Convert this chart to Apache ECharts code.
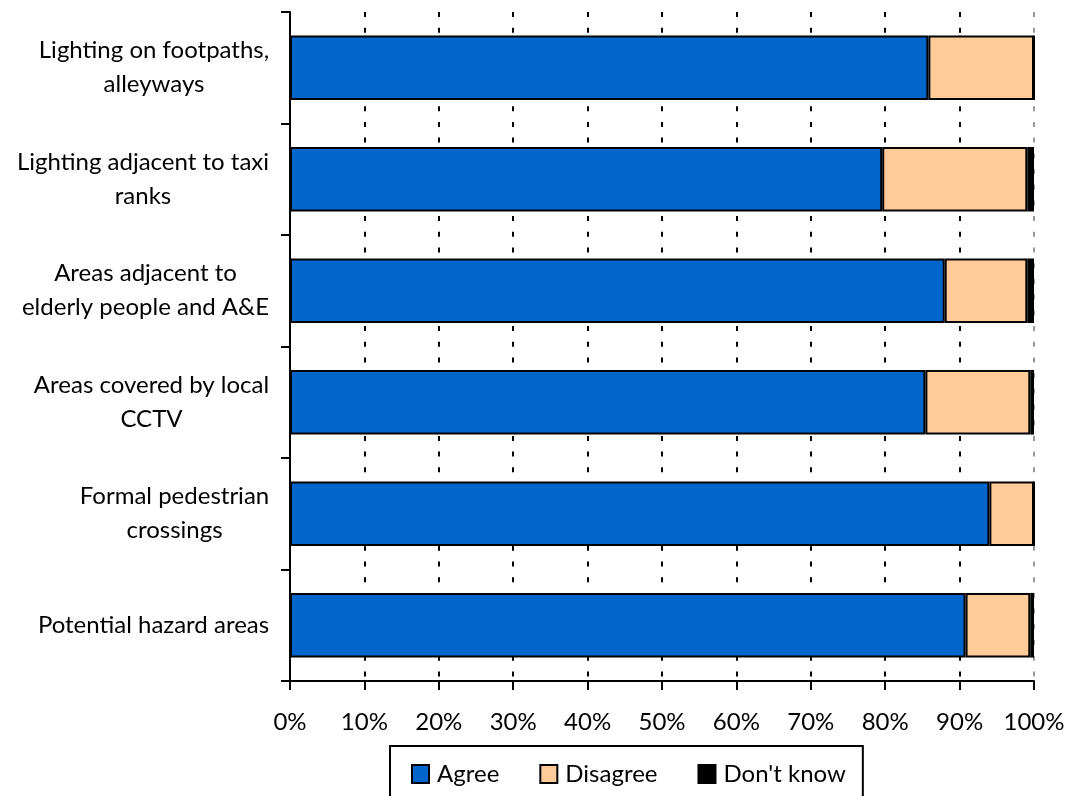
<!DOCTYPE html>
<html>
<head>
<meta charset="utf-8">
<script src="https://cdn.jsdelivr.net/npm/echarts@6/dist/echarts.min.js"></script>
<style>
html,body{margin:0;padding:0;background:#fff;}
#chart{width:1069px;height:796px;}
</style>
</head>
<body>
<div id="chart"></div>
<script>
var categories = [
  'Lighting on footpaths,\nalleyways',
  'Lighting adjacent to taxi\nranks',
  'Areas adjacent to\nelderly people and A&E',
  'Areas covered by local\nCCTV',
  'Formal pedestrian\ncrossings',
  'Potential hazard areas'
];
var agree = [85.8, 79.6, 88.0, 85.4, 94.0, 90.8];
var disagree = [14.2, 19.5, 11.1, 14.1, 6.0, 8.7];
var dontKnow = [0, 0.9, 0.9, 0.5, 0, 0.5];
var seriesNames = ['Agree', 'Disagree', "Don't know"];
var seriesColors = ['#0066CC', '#FFCC99', '#000000'];
var xTicks = [0, 10, 20, 30, 40, 50, 60, 70, 80, 90, 100];

var font = 'Lato';
var fontSize = 24;
var chart = echarts.init(document.getElementById('chart'));

// measure label lines so each multi-line label is centred within its own block
var ctx = document.createElement('canvas').getContext('2d');
ctx.font = fontSize + 'px ' + font;
var rich = {};
categories.forEach(function (c, i) {
  var w = 0;
  c.split('\n').forEach(function (l) { w = Math.max(w, ctx.measureText(l).width); });
  rich['c' + i] = { width: Math.ceil(w) + 1, align: 'center', fontFamily: font, fontSize: fontSize, color: '#000', lineHeight: 34 };
});

var gridColors = xTicks.map(function (v) { return v === 100 ? '#999999' : '#000000'; });
var seriesData = [agree, disagree, dontKnow];

chart.setOption({
  animation: false,
  backgroundColor: '#ffffff',
  textStyle: { fontFamily: font },
  grid: { left: 290, right: 35, top: 12, bottom: 115, containLabel: false },
  legend: {
    left: 390,
    top: 746,
    padding: [16, 17, 30, 21],
    borderColor: '#000',
    borderWidth: 2,
    itemWidth: 17,
    itemHeight: 18,
    itemGap: 40,
    icon: 'rect',
    textStyle: { fontFamily: font, fontSize: fontSize, color: '#000', padding: [0, 0, 0, 3] },
    data: seriesNames
  },
  xAxis: {
    type: 'value',
    min: 0,
    max: 100,
    interval: 10,
    axisLine: { show: true, lineStyle: { color: '#000', width: 2 } },
    axisTick: { show: true, length: 9, lineStyle: { color: '#000', width: 2 } },
    axisLabel: { formatter: '{value}%', fontFamily: font, fontSize: fontSize, color: '#000', margin: 29 },
    splitLine: { show: true, lineStyle: { color: gridColors, width: 2, type: [5, 10.7] } }
  },
  yAxis: {
    type: 'category',
    inverse: true,
    data: categories,
    axisLine: { show: true, lineStyle: { color: '#000', width: 2 } },
    axisTick: { show: true, length: 9, lineStyle: { color: '#000', width: 2 } },
    axisLabel: {
      margin: 20,
      align: 'right',
      rich: rich,
      formatter: function (value, index) {
        return value.split('\n').map(function (l) { return '{c' + index + '|' + l + '}'; }).join('\n');
      }
    }
  },
  series: seriesNames.map(function (name, i) {
    return {
      name: name,
      type: 'bar',
      stack: 'total',
      barCategoryGap: '42%',
      data: seriesData[i],
      itemStyle: { color: seriesColors[i], borderColor: '#000', borderWidth: 2 }
    };
  })
});
</script>
</body>
</html>
